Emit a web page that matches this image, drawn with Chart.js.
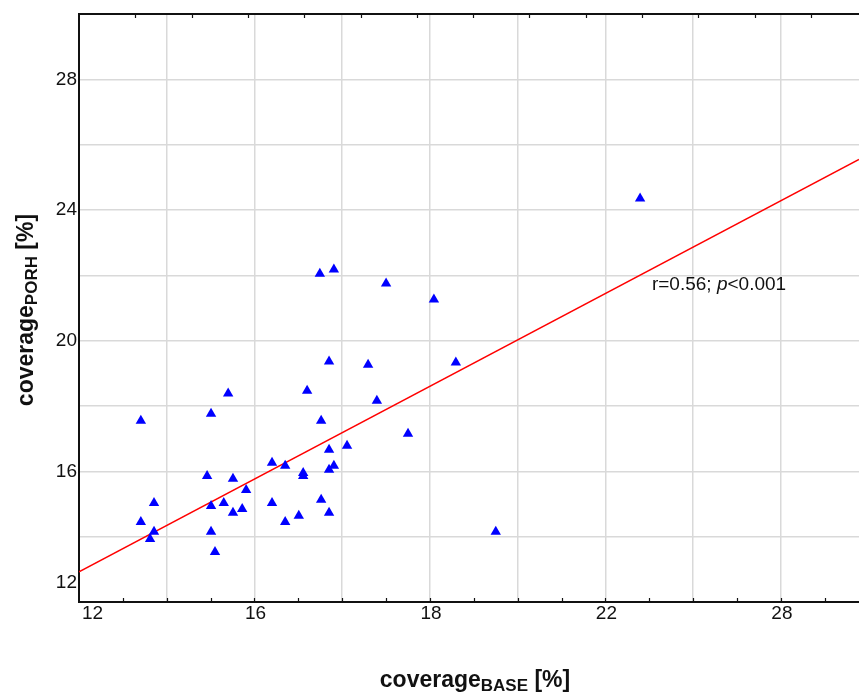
<!DOCTYPE html>
<html>
<head>
<meta charset="utf-8">
<script src="https://cdn.jsdelivr.net/npm/chart.js@4.4.1/dist/chart.umd.min.js"></script>
<style>
    html, body { margin: 0; padding: 0; background: #fff; }
    #wrap { width: 859px; height: 693px; }
</style>
</head>
<body>
<div id="wrap"><canvas id="grafico" width="859" height="693"></canvas></div>
<script>
// coverage values (x = BASE, y = PORH), in %
const baseVals = [13.41, 13.41, 13.71, 13.71, 13.62, 15.01, 14.92, 15.01, 15.01, 15.10,
                  15.40, 15.30, 15.51, 15.51, 15.72, 15.81, 16.40, 16.40, 16.70, 16.70,
                  17.01, 17.11, 17.11, 17.20, 17.52, 17.52, 17.70, 17.70, 17.70, 17.70,
                  17.81, 18.11, 18.59, 18.79, 19.50, 17.49, 17.81, 19.00, 20.09, 20.59,
                  21.50, 24.79];
const porhVals = [17.55, 14.45, 15.03, 14.15, 13.93, 17.76, 15.86, 14.94, 14.15, 13.53,
                  18.38, 15.03, 15.77, 14.73, 14.85, 15.43, 16.26, 15.03, 16.17, 14.45,
                  14.64, 15.95, 15.86, 18.47, 17.55, 15.13, 19.36, 16.66, 16.05, 14.73,
                  16.17, 16.78, 19.26, 18.16, 17.15, 22.05, 22.18, 21.75, 21.26, 19.33,
                  14.15, 24.35];

// regression line (two ends)
const fitX = [12, 29.78];
const fitY = [12.92, 25.55];

// axes
const xMin = 12, xMax = 29.78;
const yMin = 12, yMax = 30;
const xTickVals = [12, 16, 20, 24, 28];
const xTickLabels = ['12', '16', '18', '22', '28'];   // as printed on the figure
const yTickVals = [12, 16, 20, 24, 28];
const yTickLabels = ['12', '16', '20', '24', '28'];

// annotation
const statPos = { x: 25.06, y: 21.75 };

const FONT = '"Liberation Sans", Arial, sans-serif';

const points = baseVals.map((v, i) => ({ x: v, y: porhVals[i] }));
const fitLine = fitX.map((v, i) => ({ x: v, y: fitY[i] }));

// draws a word with a subscript, centred on (0,0) of the current transform
function drawSubLabel(ctx, main, sub, tail, size, subSize) {
    ctx.font = 'bold ' + size + 'px ' + FONT;
    const w1 = ctx.measureText(main).width;
    const w3 = ctx.measureText(tail).width;
    ctx.font = 'bold ' + subSize + 'px ' + FONT;
    const w2 = ctx.measureText(sub).width;
    let x = -(w1 + w2 + w3) / 2;
    ctx.textBaseline = 'alphabetic';
    ctx.textAlign = 'left';
    ctx.font = 'bold ' + size + 'px ' + FONT;
    ctx.fillText(main, x, 7);
    x += w1;
    ctx.font = 'bold ' + subSize + 'px ' + FONT;
    ctx.fillText(sub, x, 11);
    x += w2;
    ctx.font = 'bold ' + size + 'px ' + FONT;
    ctx.fillText(tail, x, 7);
}

const decoraciones = {
    id: 'decoraciones',
    afterDraw(chart) {
        const ctx = chart.ctx;
        const xs = chart.scales.x, ys = chart.scales.y, xt = chart.scales.xTop;
        const area = chart.chartArea;
        ctx.save();

        // small inward ticks, bottom and top
        ctx.strokeStyle = '#111';
        ctx.lineWidth = 1.2;
        for (let v = Math.ceil(xMin) + 1; v < xMax; v++) {
            const px = Math.round(xs.getPixelForValue(v)) + 0.5;
            ctx.beginPath(); ctx.moveTo(px, area.bottom); ctx.lineTo(px, area.bottom - 4); ctx.stroke();
        }
        for (let v = 1; v < xt.max; v++) {
            const px = Math.round(xt.getPixelForValue(v)) + 0.5;
            ctx.beginPath(); ctx.moveTo(px, area.top); ctx.lineTo(px, area.top + 4); ctx.stroke();
        }

        // tick labels
        ctx.fillStyle = '#111';
        ctx.font = '19px ' + FONT;
        ctx.textBaseline = 'middle';
        xTickVals.forEach((v, i) => {
            const px = xs.getPixelForValue(v);
            if (i === 0) { ctx.textAlign = 'left'; ctx.fillText(xTickLabels[i], px + 3, area.bottom + 12); }
            else { ctx.textAlign = 'center'; ctx.fillText(xTickLabels[i], px + 1, area.bottom + 12); }
        });
        ctx.textAlign = 'right';
        yTickVals.forEach((v, i) => {
            const py = ys.getPixelForValue(v);
            ctx.fillText(yTickLabels[i], area.left - 2, i === 0 ? py - 19 : py);
        });

        // stats text
        const sx = xs.getPixelForValue(statPos.x), sy = ys.getPixelForValue(statPos.y);
        ctx.textAlign = 'left';
        ctx.font = '19px ' + FONT;
        const t1 = 'r=0.56; ';
        ctx.fillText(t1, sx, sy + 1);
        let off = ctx.measureText(t1).width;
        ctx.font = 'italic 19px ' + FONT;
        ctx.fillText('p', sx + off, sy + 1);
        off += ctx.measureText('p').width;
        ctx.font = '19px ' + FONT;
        ctx.fillText('<0.001', sx + off, sy + 1);

        // axis titles
        ctx.save();
        ctx.translate(475, 680);
        drawSubLabel(ctx, 'coverage', 'BASE', ' [%]', 23, 17);
        ctx.restore();
        ctx.save();
        ctx.translate(26, 310);
        ctx.rotate(-Math.PI / 2);
        drawSubLabel(ctx, 'coverage', 'PORH', ' [%]', 23, 17);
        ctx.restore();

        ctx.restore();
    }
};

const ctx = document.getElementById('grafico').getContext('2d');
new Chart(ctx, {
    type: 'scatter',
    data: {
        datasets: [{
            label: 'coverage',
            data: points,
            pointStyle: 'triangle',
            pointRadius: 6,
            pointBackgroundColor: '#0000ff',
            pointBorderColor: '#0000ff',
            pointBorderWidth: 0
        }, {
            type: 'line',
            label: 'fit',
            data: fitLine,
            borderColor: '#ff0000',
            borderWidth: 1.5,
            pointRadius: 0,
            fill: false
        }]
    },
    options: {
        responsive: false,
        animation: false,
        layout: { autoPadding: false, padding: { left: 79, top: 14, right: 0, bottom: 91 } },
        plugins: {
            legend: { display: false },
            tooltip: { enabled: false }
        },
        scales: {
            x: {
                type: 'linear', position: 'bottom', min: xMin, max: xMax,
                ticks: { display: false, stepSize: 2, includeBounds: false },
                grid: { color: '#d9d9d9', lineWidth: 1.5, drawTicks: false },
                border: { display: true, color: '#111', width: 2 }
            },
            y: {
                type: 'linear', position: 'left', min: yMin, max: yMax,
                ticks: { display: false, stepSize: 2, includeBounds: false },
                grid: { color: '#d9d9d9', lineWidth: 1.5, drawTicks: false },
                border: { display: true, color: '#111', width: 2 }
            },
            xTop: {
                type: 'linear', position: 'top', min: 0, max: 780 / 56.3,
                ticks: { display: false, stepSize: 1 },
                grid: { display: false, drawTicks: false },
                border: { display: true, color: '#111', width: 2 }
            }
        }
    },
    plugins: [decoraciones]
});
</script>
</body>
</html>
